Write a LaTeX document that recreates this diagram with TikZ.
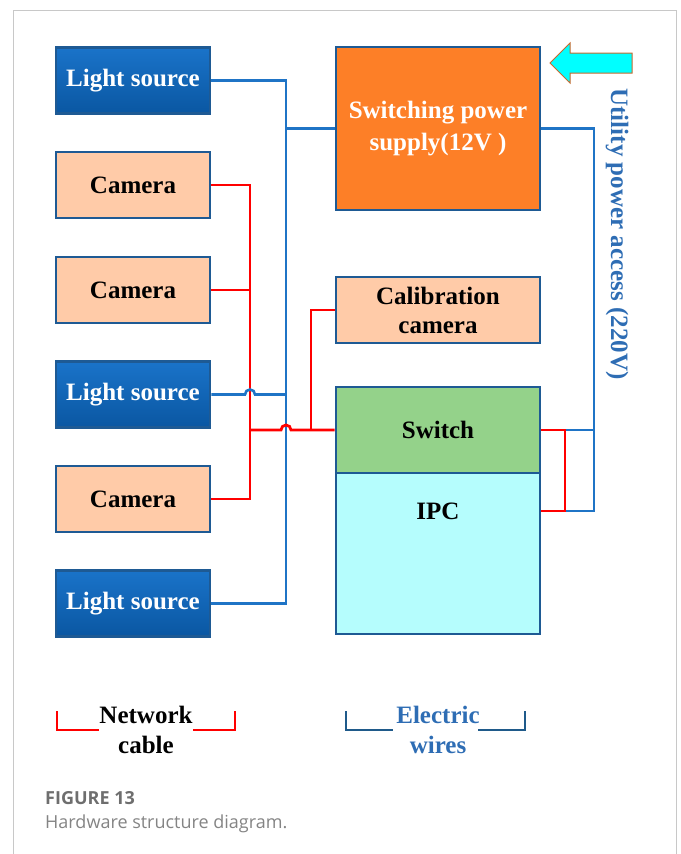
\documentclass[tikz,border=0pt]{standalone}
\usepackage{fontspec}
\setmainfont{Liberation Serif}
\newfontfamily\capfont{Open Sans}
\definecolor{framegray}{HTML}{C8C8C8}
\definecolor{bordblue}{HTML}{1E5A94}
\definecolor{wireblue}{HTML}{1F74C6}
\definecolor{wirered}{HTML}{FF0000}
\definecolor{peach}{HTML}{FFCBA8}
\definecolor{orangebox}{HTML}{FD7F27}
\definecolor{greenbox}{HTML}{94D28A}
\definecolor{cyanbox}{HTML}{B5FDFD}
\definecolor{lsTop}{HTML}{1A73C9}
\definecolor{lsBot}{HTML}{0A57A2}
\definecolor{textblue}{HTML}{2E6DB4}
\definecolor{legblue}{HTML}{1F5A8A}
\definecolor{capgray}{HTML}{6E6E6E}
\definecolor{arrowedge}{HTML}{C8692E}
\definecolor{arrowfill}{HTML}{00FFFF}
\pgfdeclarelayer{wires}
\pgfsetlayers{wires,main}
\begin{document}
\begin{tikzpicture}[x=1pt,y=-1pt,
 box/.style={draw=bordblue, line width=2.8pt, minimum width=154pt, minimum height=66pt, inner sep=0pt, font=\fontsize{25}{30}\selectfont\bfseries},
 lightbox/.style={box, top color=lsTop, bottom color=lsBot, text=white},
 cambox/.style={box, fill=peach},
 widebox/.style={box, minimum width=204pt},
 wb/.style={draw=wireblue, line width=2.6pt},
 wr/.style={draw=wirered, line width=2.8pt},
 bigtext/.style={font=\fontsize{25}{30}\selectfont\bfseries, inner sep=0pt},
]
\useasboundingbox (0,0) rectangle (680,854);
\draw[framegray, line width=1pt] (13,854) -- (13,10) -- (676,10) -- (676,854);

% junction columns
\coordinate (rx) at (250,0);
\coordinate (bx) at (286,0);
\coordinate (cx) at (311,0);
\coordinate (rx2) at (565,0);
\coordinate (px) at (594,0);

\node[lightbox] (ls1) at (133,80.5) {Light source};
\node[cambox] (cam1) at (133,185) {Camera};
\node[cambox] (cam2) at (133,290) {Camera};
\node[lightbox] (ls2) at (133,394.5) {Light source};
\node[cambox] (cam3) at (133,499) {Camera};
\node[lightbox] (ls3) at (133,603.5) {Light source};
\node[widebox, fill=orangebox, text=white, minimum height=163pt, align=center, font=\fontsize{25}{32}\selectfont\bfseries] (sps) at (438,128.5) {Switching power\\supply(12V )};
\node[widebox, fill=peach, align=center, font=\fontsize{25}{29}\selectfont\bfseries] (cal) at (438,310) {Calibration\\camera};
\node[widebox, fill=cyanbox, minimum height=161pt] (ipc) at (438,553.5) {};
\node[widebox, fill=greenbox, minimum height=86pt] (sw) at (438,430) {Switch};
\node[bigtext] (ipct) at (438,511) {IPC};

\begin{pgfonlayer}{wires}
% red network cables (left)
\draw[wr] (cam1.east) -- (cam1.east -| rx) -- (cam3.east -| rx) -- (cam3.east);
\draw[wr] (cam2.east) -- (cam2.east -| rx);
% blue power (left)
\draw[wb] (ls1.east) -- (ls1.east -| bx) -- (ls3.east -| bx) -- (ls3.east);
\draw[wb] (sps.west -| bx) -- (sps.west);
\draw[wb] (ls2.east) -- ([xshift=-5pt]ls2.east -| rx) arc (180:360:5) -- (ls2.east -| bx);
% red to switch and calibration camera
\draw[wr] (sw.west -| rx) -- ([xshift=-5pt]sw.west -| bx) arc (180:360:5) -- (sw.west);
\draw[wr] (cal.west) -- (cal.west -| cx) -- (sw.west -| cx);
% right side
\draw[wb] (sps.east) -- (sps.east -| px) -- (ipct -| px) -- (ipct -| ipc.east);
\draw[wb] (sw.east -| px) -- (sw.east);
\draw[wr] (sw.east) -- (sw.east -| rx2) -- (ipct -| rx2) -- (ipct -| ipc.east);
\end{pgfonlayer}

% input arrow
\draw[draw=arrowedge, fill=arrowfill, line width=1pt, line join=miter]
 (550,63) -- (570,43) -- (570,53) -- (632,53) -- (632,73) -- (570,73) -- (570,83) -- cycle;

\node[bigtext, rotate=-90, text=textblue] (util) at (617,234) {Utility power access (220V)};

% legend
\node[bigtext, anchor=base] (net1) at (146,723) {Network};
\node[bigtext, anchor=base] (net2) at (146,753) {cable};
\draw[wirered, line width=2.4pt] (57,711) |- (99,730);
\draw[wirered, line width=2.4pt] (193,730) -| (235,711);
\node[bigtext, anchor=base, text=textblue] (ele1) at (438,723) {Electric};
\node[bigtext, anchor=base, text=textblue] (ele2) at (438,753) {wires};
\draw[legblue, line width=2.4pt] (346,711) |- (393,730);
\draw[legblue, line width=2.4pt] (478,730) -| (525,711);

% caption
\node[anchor=base west, inner sep=0pt, text=capgray, font=\capfont\bfseries\fontsize{18}{18}\selectfont] (fig) at (45,804) {FIGURE 13};
\node[anchor=base west, inner sep=0pt, text=capgray!85, font=\capfont\fontsize{18}{18}\selectfont] (capt) at (45,828) {Hardware structure diagram.};
\end{tikzpicture}
\end{document}
